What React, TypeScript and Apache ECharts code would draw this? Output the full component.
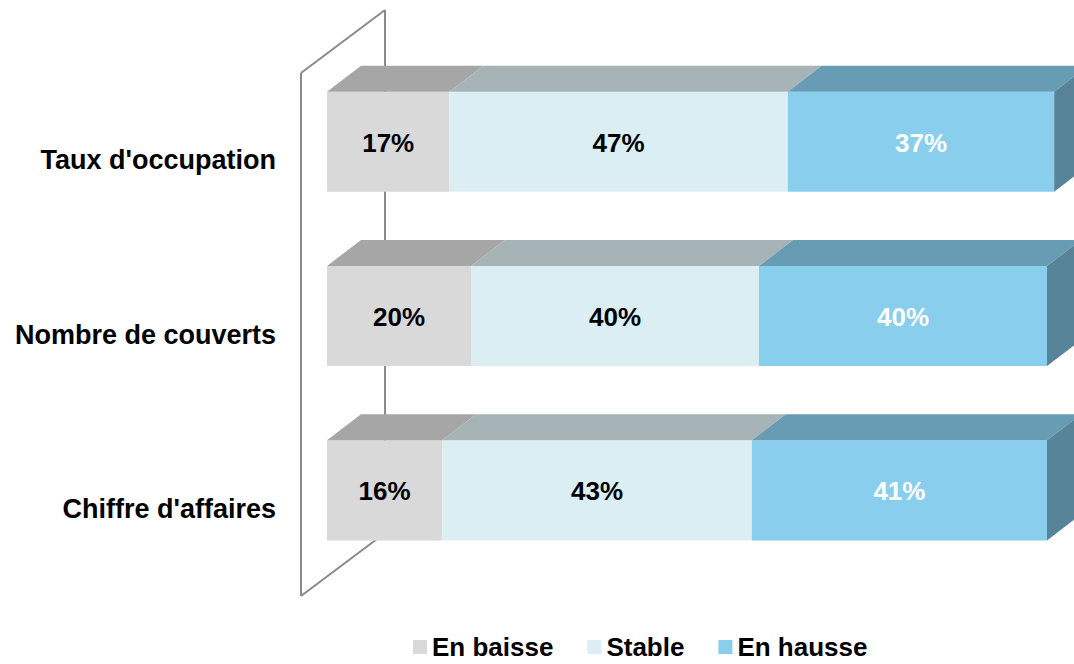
import React, { useEffect, useRef } from "react";
import * as echarts from "echarts";

const categories = ["Chiffre d'affaires", "Nombre de couverts", "Taux d'occupation"];
const seriesNames = ["En baisse", "Stable", "En hausse"];
const baisse = [16, 20, 17];
const stable = [43, 40, 47];
const hausse = [41, 40, 37];

const FONT = "'Liberation Sans', Arial, Helvetica, sans-serif";

const palette = [
  { front: "#D9D9D9", top: "#A6A6A6", side: "#8C8C8C", label: "#000000" },
  { front: "#DBEEF4", top: "#A6B3B7", side: "#8E9A9E", label: "#000000" },
  { front: "#89CEEC", top: "#679CB4", side: "#58849A", label: "#FFFFFF" },
];

export default function App() {
  const ref = useRef<HTMLDivElement>(null);

  useEffect(() => {
    document.body.style.margin = "0";
    if (!ref.current) return;
    const chart = echarts.init(ref.current, undefined, { renderer: "svg" });

    const all = [baisse, stable, hausse];
    const seriesData: number[][][] = [[], [], []];
    categories.forEach((_, ci) => {
      let acc = 0;
      all.forEach((arr, si) => {
        const v = arr[ci];
        seriesData[si].push([acc, acc + v, ci, v]);
        acc += v;
      });
    });

    const makeRender = (si: number) => (params: any, api: any) => {
      const s = api.value(0);
      const e = api.value(1);
      const cat = api.value(2);
      const v = api.value(3);
      const p0 = api.coord([s, cat]);
      const p1 = api.coord([e, cat]);
      const band = api.size([0, 1])[1];
      const top = p0[1] - band * 0.393;
      const bot = p0[1] + band * 0.181;
      const dx = band * 0.195;
      const dy = band * 0.149;
      const c = palette[si];
      const children: any[] = [
        {
          type: "rect",
          shape: { x: p0[0], y: top, width: p1[0] - p0[0], height: bot - top },
          style: { fill: c.front },
        },
        {
          type: "polygon",
          shape: {
            points: [
              [p0[0], top],
              [p1[0], top],
              [p1[0] + dx, top - dy],
              [p0[0] + dx, top - dy],
            ],
          },
          style: { fill: c.top },
        },
      ];
      if (si === 2) {
        children.push({
          type: "polygon",
          shape: {
            points: [
              [p1[0], top],
              [p1[0] + dx, top - dy],
              [p1[0] + dx, bot - dy],
              [p1[0], bot],
            ],
          },
          style: { fill: c.side },
        });
      }
      children.push({
        type: "text",
        style: {
          text: v + "%",
          x: (p0[0] + p1[0]) / 2,
          y: (top + bot) / 2 + 1,
          align: "center",
          verticalAlign: "middle",
          fill: c.label,
          fontSize: 26,
          fontWeight: "bold",
          fontFamily: FONT,
        },
      });
      return { type: "group", children };
    };

    const wallColor = "#8A8A8A";
    const option: any = {
      animation: false,
      textStyle: { fontFamily: FONT },
      grid: { left: 327, top: 73, bottom: 68, width: 727.2 },
      xAxis: { type: "value", min: 0, max: 101, show: false },
      yAxis: {
        type: "category",
        data: categories,
        axisLine: { show: false },
        axisTick: { show: false },
        splitLine: { show: false },
        axisLabel: {
          margin: 51,
          fontSize: 27,
          fontWeight: "bold",
          color: "#000000",
          fontFamily: FONT,
        },
      },
      legend: {
        left: 408,
        top: 629,
        icon: "rect",
        itemWidth: 14,
        itemHeight: 14,
        itemGap: 34,
        textStyle: { fontSize: 26, lineHeight: 26, fontWeight: "bold", color: "#000000", fontFamily: FONT },
        data: seriesNames,
      },
      graphic: [
        { type: "line", z: 0, shape: { x1: 301, y1: 73, x2: 301, y2: 596 }, style: { stroke: wallColor, lineWidth: 2 } },
        { type: "line", z: 0, shape: { x1: 301, y1: 73, x2: 385, y2: 10 }, style: { stroke: wallColor, lineWidth: 2 } },
        { type: "line", z: 0, shape: { x1: 385, y1: 10, x2: 385, y2: 533 }, style: { stroke: wallColor, lineWidth: 2 } },
        { type: "line", z: 0, shape: { x1: 301, y1: 596, x2: 385, y2: 533 }, style: { stroke: wallColor, lineWidth: 2 } },
      ],
      series: seriesNames.map((name, si) => ({
        name,
        type: "custom",
        z: 5,
        itemStyle: { color: palette[si].front },
        encode: { x: [0, 1], y: 2 },
        renderItem: makeRender(si),
        data: seriesData[si],
        clip: false,
      })),
    };

    chart.setOption(option);
    return () => chart.dispose();
  }, []);

  return <div ref={ref} style={{ width: 1074, height: 664 }} />;
}
